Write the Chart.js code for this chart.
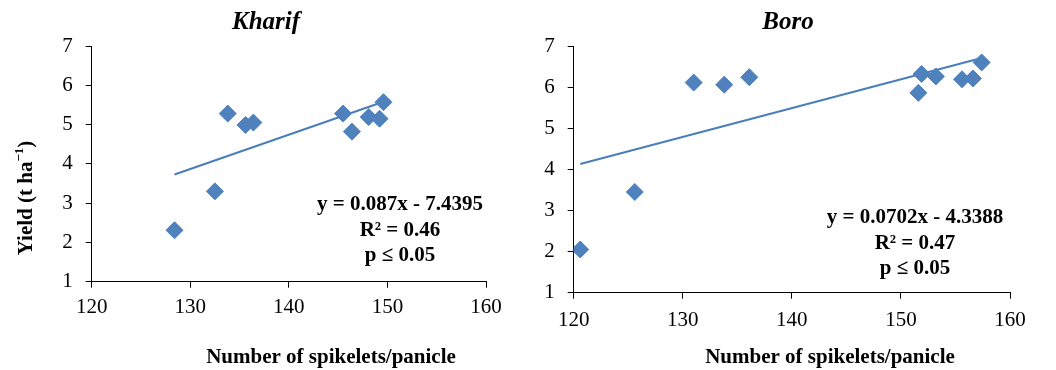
<!DOCTYPE html>
<html>
<head>
<meta charset="utf-8">
<script src="https://cdn.jsdelivr.net/npm/chart.js@4/dist/chart.umd.min.js"></script>
<style>
  html, body { margin: 0; padding: 0; background: #fff; }
  #wrap { position: relative; width: 1056px; height: 370px; }
  #c1 { position: absolute; left: 0; top: 0; }
  #c2 { position: absolute; left: 520px; top: 0; }
</style>
</head>
<body>
<div id="wrap">
  <canvas id="c1" width="520" height="370"></canvas>
  <canvas id="c2" width="536" height="370"></canvas>
</div>
<script>
// ---- Data ----
const xTicks = [120, 130, 140, 150, 160];
const yTicks = [1, 2, 3, 4, 5, 6, 7];

const kharifX = [128.4, 132.5, 133.8, 135.6, 136.4, 145.5, 146.4, 148.1, 149.2, 149.6];
const kharifY = [2.31, 3.30, 5.28, 4.99, 5.05, 5.28, 4.82, 5.19, 5.15, 5.57];
const kharifTrendX = [128.4, 149.6];
const kharifTrendY = [3.73, 5.58];
const kharifStats = ["y = 0.087x - 7.4395", "R² = 0.46", "p ≤ 0.05"];

const boroX = [120.6, 125.6, 131.0, 133.8, 136.1, 151.6, 151.9, 153.2, 155.6, 156.6, 157.4];
const boroY = [2.05, 3.45, 6.11, 6.06, 6.24, 5.86, 6.32, 6.26, 6.19, 6.21, 6.60];
const boroTrendX = [120.6, 157.4];
const boroTrendY = [4.13, 6.71];
const boroStats = ["y = 0.0702x - 4.3388", "R² = 0.47", "p ≤ 0.05"];

const xTitle = "Number of spikelets/panicle";
const yTitleMain = "Yield (t ha";
const yTitleSup = "−1";

const FONT = "'Liberation Serif', 'Times New Roman', serif";
const MARKER = '#4F81BD';
const TREND = '#4A7EBB';

function pts(xs, ys) { return xs.map((x, i) => ({ x: x, y: ys[i] })); }

function textPlugin(cfg) {
  return {
    id: 'texts',
    afterDraw(chart) {
      const ctx = chart.ctx;
      const xs = chart.scales.x, ys = chart.scales.y;
      ctx.save();
      ctx.fillStyle = '#000';
      // title
      ctx.font = "italic bold 25px " + FONT;
      ctx.textAlign = 'center';
      ctx.textBaseline = 'middle';
      ctx.fillText(cfg.title, cfg.titleX, 23);
      // x title
      ctx.font = "bold 21px " + FONT;
      ctx.fillText(xTitle, cfg.xTitleX, 358);
      // stats
      ctx.font = "bold 21px " + FONT;
      cfg.stats.forEach((s, i) => {
        ctx.fillText(s, cfg.statX, cfg.statY + i * 25.3);
      });
      // y title
      if (cfg.yTitle) {
        ctx.translate(27, 198);
        ctx.rotate(-Math.PI / 2);
        ctx.font = "bold 21px " + FONT;
        const w1 = ctx.measureText(yTitleMain).width;
        ctx.font = "bold 13px " + FONT;
        const w2 = ctx.measureText(yTitleSup).width;
        ctx.font = "bold 21px " + FONT;
        const w3 = ctx.measureText(")").width;
        let x0 = -(w1 + w2 + w3) / 2;
        ctx.textAlign = 'left';
        ctx.fillText(yTitleMain, x0, 0);
        ctx.font = "bold 13px " + FONT;
        ctx.fillText(yTitleSup, x0 + w1, -7);
        ctx.font = "bold 21px " + FONT;
        ctx.fillText(")", x0 + w1 + w2, 0);
      }
      ctx.restore();
    }
  };
}

function makeChart(id, xs, ys, tx, ty, opts) {
  return new Chart(document.getElementById(id), {
    type: 'scatter',
    data: {
      datasets: [
        {
          data: pts(xs, ys),
          pointStyle: 'rectRot',
          pointRadius: 8.5,
          pointHoverRadius: 8.5,
          backgroundColor: MARKER,
          borderColor: MARKER,
          pointBorderWidth: 1,
          order: 1
        },
        {
          data: pts(tx, ty),
          showLine: true,
          pointRadius: 0,
          borderColor: TREND,
          borderWidth: 2,
          fill: false,
          order: 2
        }
      ]
    },
    options: {
      responsive: false,
      animation: false,
      devicePixelRatio: 1,
      layout: { padding: { top: 46, right: opts.padRight, left: 0, bottom: 0 } },
      plugins: { legend: { display: false }, tooltip: { enabled: false }, title: { display: false } },
      scales: {
        x: {
          type: 'linear',
          min: xTicks[0], max: xTicks[xTicks.length - 1],
          afterBuildTicks(s) { s.ticks = xTicks.map(v => ({ value: v })); },
          afterFit(s) { s.height = opts.xAxisH; },
          border: { color: '#000', width: 1 },
          grid: { drawOnChartArea: false, drawTicks: true, tickLength: 6, color: '#000' },
          ticks: { color: '#000', padding: opts.xPad, font: { family: FONT, size: 21 }, maxRotation: 0 }
        },
        y: {
          type: 'linear',
          min: yTicks[0], max: yTicks[yTicks.length - 1],
          afterBuildTicks(s) { s.ticks = yTicks.map(v => ({ value: v })); },
          afterFit(s) { s.width = opts.yAxisW; },
          border: { color: '#000', width: 1 },
          grid: { drawOnChartArea: false, drawTicks: true, tickLength: 6, color: '#000' },
          ticks: { color: '#000', padding: 13, font: { family: FONT, size: 21 } }
        }
      }
    },
    plugins: [textPlugin(opts)]
  });
}

makeChart('c1', kharifX, kharifY, kharifTrendX, kharifTrendY, {
  padRight: 34, xAxisH: 88.3, yAxisW: 91.7, xPad: 7,
  title: 'Kharif', titleX: 266, xTitleX: 331, stats: kharifStats, statX: 400, statY: 205, yTitle: true
});
makeChart('c2', boroX, boroY, boroTrendX, boroTrendY, {
  padRight: 46, xAxisH: 77.3, yAxisW: 53.7, xPad: 9,
  title: 'Boro', titleX: 268, xTitleX: 310, stats: boroStats, statX: 395, statY: 218, yTitle: false
});
</script>
</body>
</html>
